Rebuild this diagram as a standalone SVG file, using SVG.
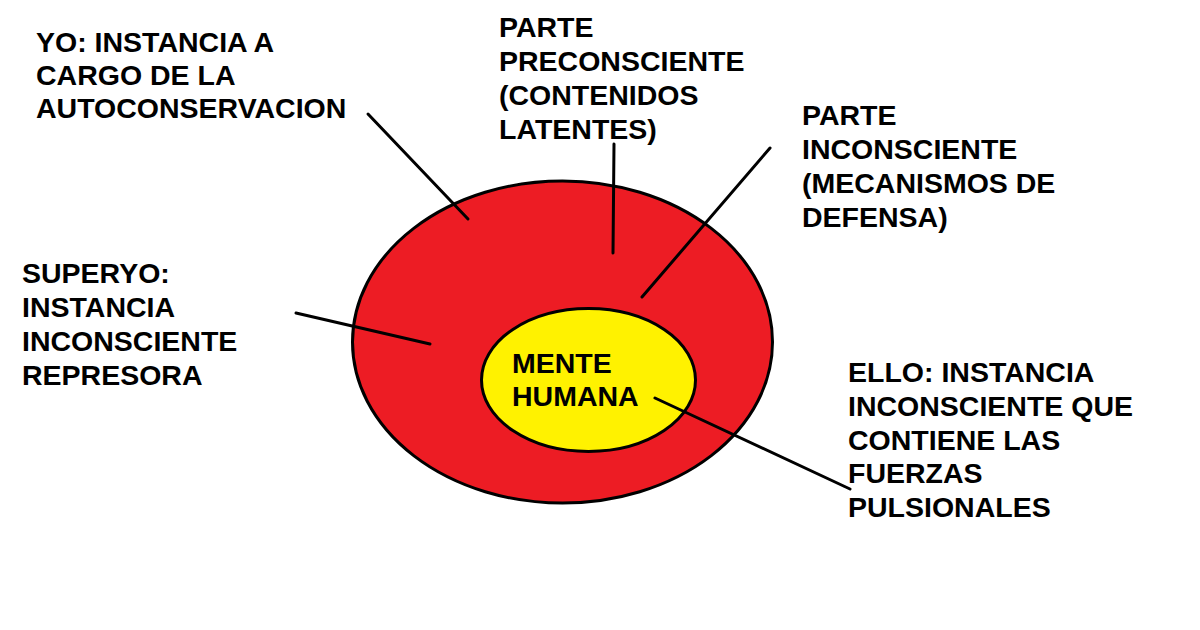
<svg xmlns="http://www.w3.org/2000/svg" width="1200" height="630" viewBox="0 0 1200 630">
<style>
.t{font-family:"Liberation Sans",Arial,sans-serif;font-weight:bold;font-size:28.5px;fill:#000}
.c{stroke:#000;stroke-width:3;stroke-linecap:round;fill:none}
</style>
<rect width="1200" height="630" fill="#fff"/>
<g id="outer">
<ellipse cx="562.5" cy="342" rx="210" ry="161" fill="#ED1C24" stroke="#000" stroke-width="3"/>
</g>
<g id="mente">
<ellipse cx="588.5" cy="380" rx="107" ry="71.5" fill="#FFF200" stroke="#000" stroke-width="3"/>
<text class="t" x="512" y="373">MENTE</text>
<text class="t" x="512" y="406">HUMANA</text>
</g>
<g id="connectors">
<line class="c" x1="368" y1="114" x2="468" y2="219"/>
<line class="c" x1="614" y1="144" x2="613" y2="253"/>
<line class="c" x1="770" y1="148" x2="642" y2="297"/>
<line class="c" x1="296" y1="313" x2="430" y2="344"/>
<line class="c" x1="655" y1="398" x2="850" y2="489"/>
</g>
<g id="yo">
<text class="t" x="36" y="52">YO: INSTANCIA A</text>
<text class="t" x="36" y="85">CARGO DE LA</text>
<text class="t" x="36" y="118">AUTOCONSERVACION</text>
</g>
<g id="preconsciente">
<text class="t" x="499" y="37">PARTE</text>
<text class="t" x="499" y="71">PRECONSCIENTE</text>
<text class="t" x="499" y="105">(CONTENIDOS</text>
<text class="t" x="499" y="139">LATENTES)</text>
</g>
<g id="inconsciente">
<text class="t" x="802" y="125">PARTE</text>
<text class="t" x="802" y="159">INCONSCIENTE</text>
<text class="t" x="802" y="193">(MECANISMOS DE</text>
<text class="t" x="802" y="227">DEFENSA)</text>
</g>
<g id="superyo">
<text class="t" x="22" y="283">SUPERYO:</text>
<text class="t" x="22" y="317">INSTANCIA</text>
<text class="t" x="22" y="351">INCONSCIENTE</text>
<text class="t" x="22" y="385">REPRESORA</text>
</g>
<g id="ello">
<text class="t" x="848" y="382">ELLO: INSTANCIA</text>
<text class="t" x="848" y="416">INCONSCIENTE QUE</text>
<text class="t" x="848" y="450">CONTIENE LAS</text>
<text class="t" x="848" y="483">FUERZAS</text>
<text class="t" x="848" y="517">PULSIONALES</text>
</g>
</svg>
